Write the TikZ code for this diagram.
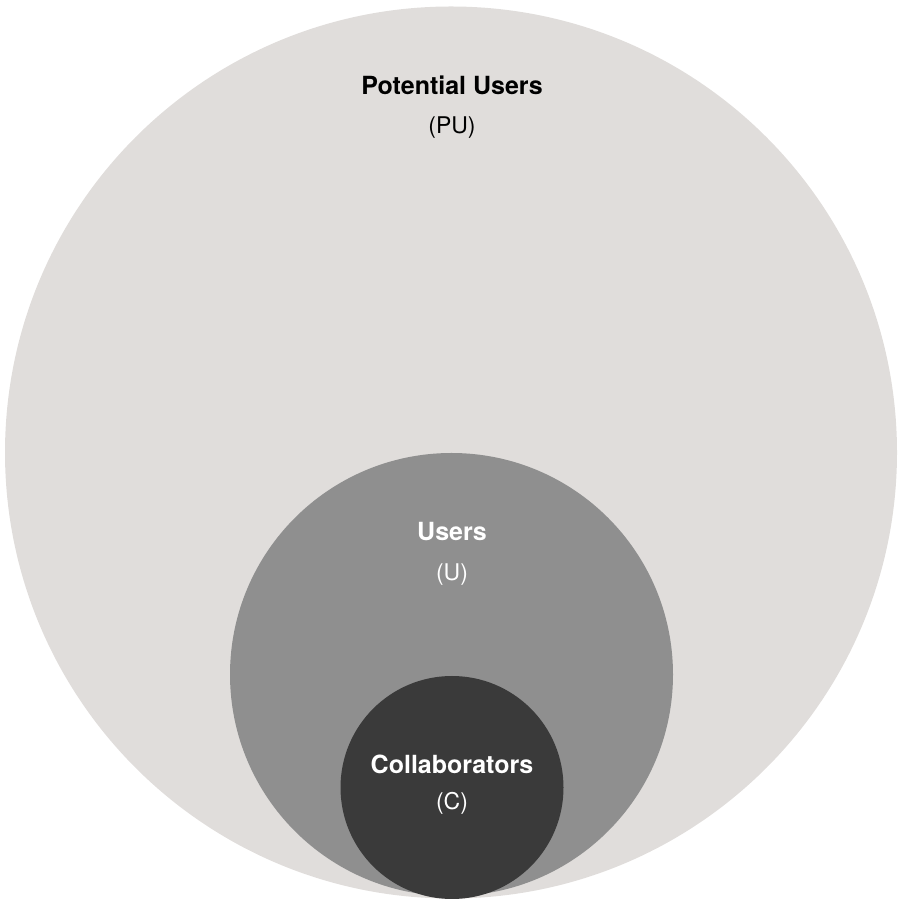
\documentclass[tikz,border=0pt]{standalone}
\usepackage{fontspec}
\setmainfont{TeX Gyre Heros}
\usetikzlibrary{positioning}
\definecolor{pu area}{HTML}{E0DDDB}
\definecolor{u area}{HTML}{8F8F8F}
\definecolor{c area}{HTML}{3A3A3A}
\tikzset{
  set/.style={circle, inner sep=0pt, outer sep=0pt},
  settitle/.style={font=\fontsize{25}{29}\selectfont\bfseries, inner sep=0pt, anchor=center},
  setabbr/.style={font=\fontsize{23}{27}\selectfont, inner sep=0pt, anchor=center},
}
\begin{document}
\begin{tikzpicture}[x=1pt, y=1pt]
    \useasboundingbox (0,0) rectangle (899,901);
    % nested sets
    \node[set, fill=pu area, minimum size=892pt] (pu) at (451,448.5) {};
    \node[set, fill=u area, minimum size=443pt] (u) at (451.5,226.5) {};
    \node[set, fill=c area, minimum size=223pt] (c) at (452,113.5) {};
    % labels
    \node[settitle] (putitle) at (452,816) {Potential Users};
    \node[setabbr, below=43pt of putitle.center, anchor=center] (puabbr) {(PU)};
    \node[settitle, text=white] (utitle) at (452,369) {Users};
    \node[setabbr, text=white, below=43pt of utitle.center, anchor=center] (uabbr) {(U)};
    \node[settitle, text=white] (ctitle) at (452,137) {Collaborators};
    \node[setabbr, text=white, below=39pt of ctitle.center, anchor=center] (cabbr) {(C)};
\end{tikzpicture}
\end{document}
